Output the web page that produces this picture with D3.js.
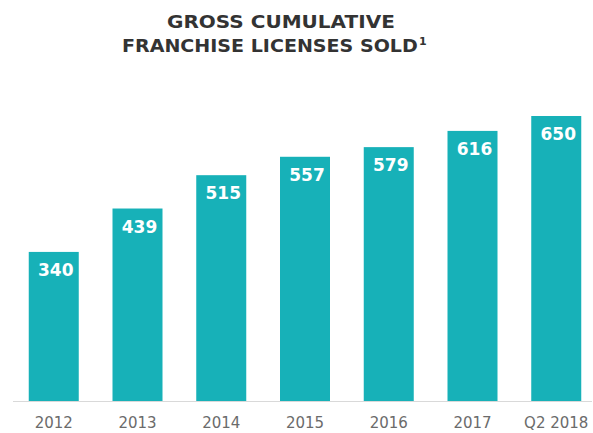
<!DOCTYPE html>
<html>
<head>
<meta charset="utf-8">
<script src="https://cdn.jsdelivr.net/npm/d3@7/dist/d3.min.js"></script>
<style>
  html, body { margin: 0; padding: 0; background: #ffffff; }
  svg { display: block; }
</style>
</head>
<body>
<div id="chart"></div>
<script>
// Gross cumulative franchise licenses sold, by year
const categories = ["2012", "2013", "2014", "2015", "2016", "2017", "Q2 2018"];
const licenses = [340, 439, 515, 557, 579, 616, 650];
const titleLines = ["GROSS CUMULATIVE", "FRANCHISE LICENSES SOLD"];

const W = 593, H = 433;

const svg = d3.select("#chart").append("svg")
  .attr("width", W).attr("height", H);

const font = "'DejaVu Sans', Verdana, sans-serif";

// Title: bold caps, stretched horizontally to a wide face
function titleLine(str, x0, y0, width) {
  const t = svg.append("text")
    .attr("x", 0).attr("y", 0)
    .style("font-family", font)
    .style("font-weight", "bold")
    .style("font-size", "17px")
    .style("fill", "#333333")
    .text(str);
  const natural = t.node().getComputedTextLength();
  t.attr("transform", `translate(${x0},${y0}) scale(${width / natural},1)`);
  return t;
}
titleLine(titleLines[0], 167, 28, 228);
titleLine(titleLines[1], 122, 52, 296);
svg.append("text")
  .attr("x", 419).attr("y", 45)
  .style("font-family", font)
  .style("font-weight", "bold")
  .style("font-size", "11px")
  .style("fill", "#333333")
  .text("1");

// Scales
const x = d3.scaleBand()
  .domain(categories)
  .range([12, 598])
  .paddingInner(0.403)
  .paddingOuter(0.2);

const y = d3.scaleLinear()
  .domain([0, 650])
  .range([401, 116]);

// Bars
svg.append("g").selectAll("rect")
  .data(licenses)
  .join("rect")
  .attr("x", (d, i) => x(categories[i]))
  .attr("y", d => y(d))
  .attr("width", x.bandwidth())
  .attr("height", d => y(0) - y(d))
  .attr("fill", "#17b1b8");

// Value labels
svg.append("g").selectAll("text")
  .data(licenses)
  .join("text")
  .attr("x", (d, i) => x(categories[i]) + x.bandwidth() / 2 + 2)
  .attr("y", d => y(d) + 24)
  .attr("text-anchor", "middle")
  .style("font-family", font)
  .style("font-weight", "bold")
  .style("font-size", "17px")
  .style("fill", "#ffffff")
  .text(d => d);

// Category labels under the baseline
const axis = d3.axisBottom(x).tickSize(0).tickPadding(0);
const gx = svg.append("g")
  .attr("transform", `translate(0,${y(0)})`)
  .call(axis);
gx.select(".domain").remove();
gx.selectAll("text")
  .attr("dy", null)
  .attr("y", 27)
  .style("font-family", font)
  .style("font-size", "15px")
  .style("fill", "#6b6b6b");

svg.append("line")
  .attr("x1", 13).attr("x2", 592)
  .attr("y1", y(0) + 0.5).attr("y2", y(0) + 0.5)
  .attr("stroke", "#d9d9d9")
  .attr("stroke-width", 1);
</script>
</body>
</html>
